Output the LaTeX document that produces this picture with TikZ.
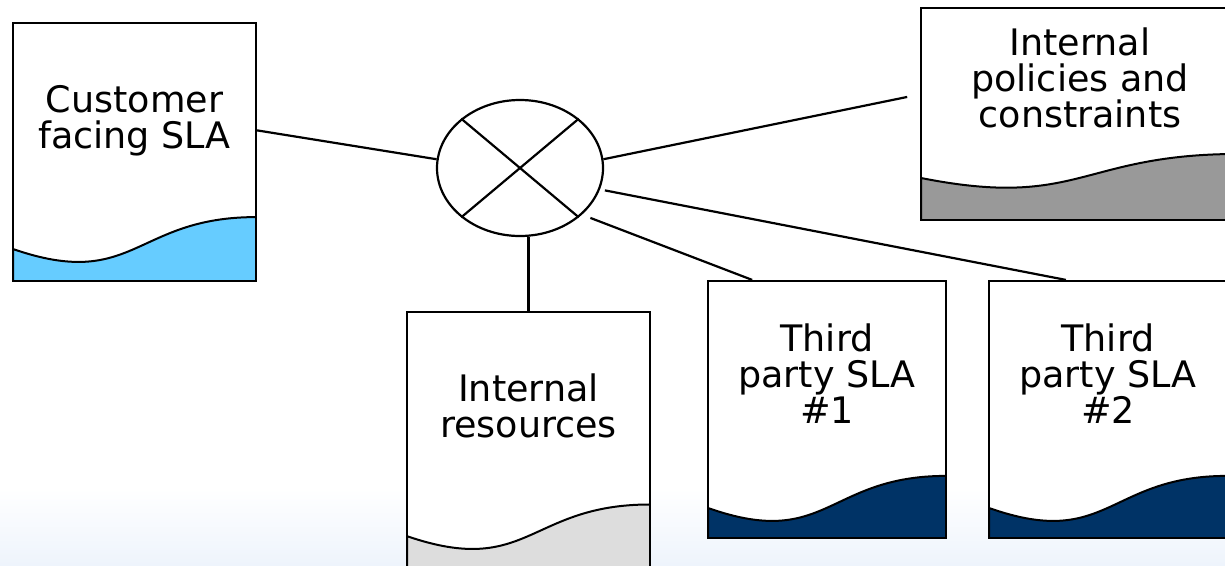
\documentclass[tikz,border=0pt]{standalone}
\usepackage{fontspec}
\setmainfont{DejaVu Sans}
\usetikzlibrary{shapes.geometric,positioning,calc}

\definecolor{skyfill}{HTML}{66CCFF}
\definecolor{greyfill}{HTML}{999999}
\definecolor{paperfill}{HTML}{DDDDDD}
\definecolor{navyfill}{HTML}{003366}
\definecolor{fadeblue}{RGB}{238,244,252}

\tikzset{
  doc/.style 2 args={draw, rectangle, line width=2.2pt, inner sep=0pt, fill=white,
    path picture={
      \filldraw[fill=#1, line width=2pt] (path picture bounding box.south west)
        -- ($(path picture bounding box.north west)+(0,{0.934*#2})$)
        .. controls ($(path picture bounding box.north)+(0,{1.1075*#2})$)
        and ($(path picture bounding box.north)+(0,{0.802*#2})$)
        .. ($(path picture bounding box.north east)+(0,{0.802*#2})$)
        -- (path picture bounding box.south east) -- cycle;
    }},
  doctext/.style={font=\fontsize{36.5}{36}\selectfont, align=center, inner sep=0pt},
  link/.style={line width=2.2pt}
}

\begin{document}
\begin{tikzpicture}[x=1pt, y=-1pt]
\useasboundingbox (0,0) rectangle (1225,565);
\clip (0,0) rectangle (1225,565);
\shade[top color=white, bottom color=fadeblue] (0,488) rectangle (1225,565);

\node[doc={skyfill}{242}, minimum width=243pt, minimum height=258pt] (cust) at (134.5,152) {};
\node[doc={greyfill}{182}, minimum width=318pt, minimum height=212pt] (pol) at (1080,114) {};
\node[doc={paperfill}{240}, minimum width=243pt, minimum height=256pt] (res) at (528.5,440) {};
\node[doc={navyfill}{243}, minimum width=238pt, minimum height=257pt] (tp1) at (827,409.5) {};
\node[doc={navyfill}{243}, minimum width=238pt, minimum height=257pt] (tp2) at (1108,409.5) {};

\node[doctext, below=63pt of cust.north] (cust-txt) {Customer\\facing SLA};
\node[doctext, below=21pt of pol.north] (pol-txt) {Internal\\policies and\\constraints};
\node[doctext, below=63pt of res.north] (res-txt) {Internal\\resources};
\node[doctext, below=44pt of tp1.north] (tp1-txt) {Third\\party SLA\\\#1};
\node[doctext, below=44pt of tp2.north] (tp2-txt) {Third\\party SLA\\\#2};

\node[draw, ellipse, line width=2.2pt, minimum width=166pt, minimum height=136pt] (hub) at (520,168) {};
\draw[link] (hub.140) -- (hub.-40) (hub.40) -- (hub.-140);

\draw[link] (cust.10) -- (hub.174);
\draw[link, shorten >=13pt] (hub.6) -- (pol.173);
\draw[link, shorten <=5pt] (hub.-15) -- (tp2.108);
\draw[link, shorten <=9pt] (hub.-37) -- (tp1.120);
\draw[link] (res.north) -- (res.north |- hub.south);
\end{tikzpicture}
\end{document}
